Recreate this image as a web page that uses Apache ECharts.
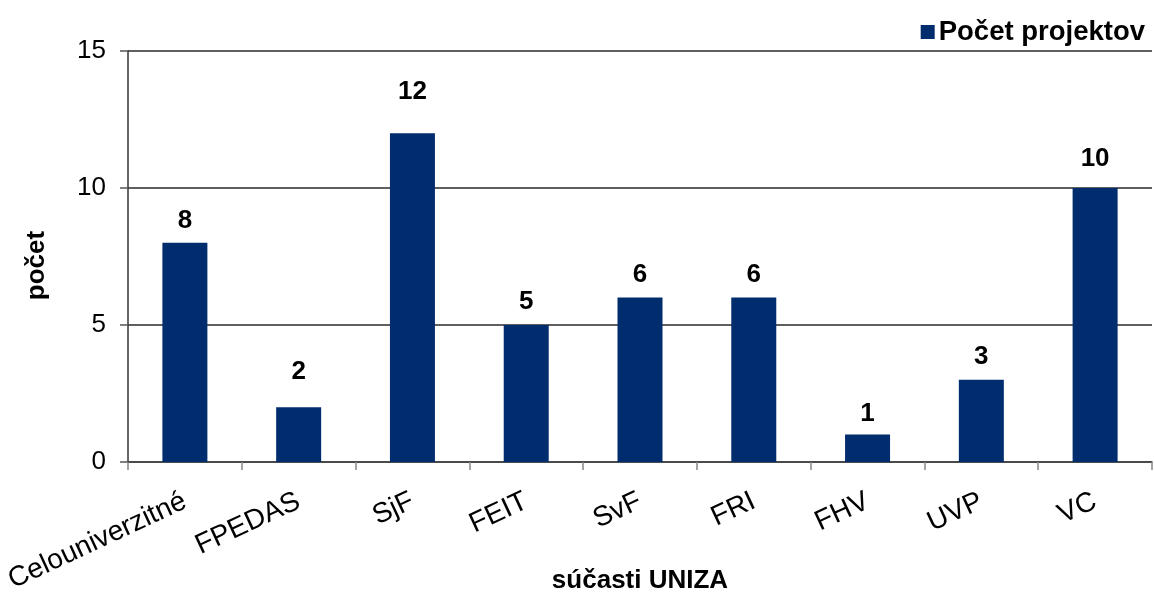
<!DOCTYPE html>
<html>
<head>
<meta charset="utf-8">
<script src="https://cdn.jsdelivr.net/npm/echarts@6/dist/echarts.min.js"></script>
<style>html,body{margin:0;padding:0;background:#fff;}#c{width:1154px;height:597px;}</style>
</head>
<body>
<div id="c"></div>
<script>
const categories = ['Celouniverzitné', 'FPEDAS', 'SjF', 'FEIT', 'SvF', 'FRI', 'FHV', 'UVP', 'VC'];
const values = [8, 2, 12, 5, 6, 6, 1, 3, 10];
const seriesName = 'Počet projektov';
const xTitle = 'súčasti UNIZA';
const yTitle = 'počet';
const yMin = 0, yMax = 15, yStep = 5;

// gap between each bar top and its value label (as in the original)
const labelGaps = [9, 22, 28, 10, 10, 10, 8, 10, 16];

const font = 'Arial, "Liberation Sans", sans-serif';
const chart = echarts.init(document.getElementById('c'), null, {renderer: 'canvas'});
chart.setOption({
  animation: false,
  backgroundColor: '#fff',
  textStyle: {fontFamily: font},
  legend: {
    right: 4, top: 13,
    itemWidth: 14, itemHeight: 14, itemGap: 10,
    icon: 'rect',
    textStyle: {fontFamily: font, fontSize: 27.5, fontWeight: 'bold', color: '#000', padding: [0,0,0,-1]},
    data: [seriesName]
  },
  grid: {left: 128, right: 2, top: 51, bottom: 135, containLabel: false, outerBoundsMode: 'none'},
  xAxis: {
    type: 'category',
    data: categories,
    name: xTitle,
    nameLocation: 'middle',
    nameGap: 106,
    nameMoveOverlap: false,
    nameTextStyle: {fontFamily: font, fontSize: 26, fontWeight: 'bold', color: '#000', verticalAlign: 'top'},
    axisLine: {lineStyle: {color: '#444', width: 1.5}},
    axisTick: {show: true, length: 8, lineStyle: {color: '#888', width: 1.5}},
    axisLabel: {rotate: 25, margin: 38, interval: 0, fontFamily: font, fontSize: 28, color: '#000'}
  },
  yAxis: {
    type: 'value',
    min: yMin, max: yMax, interval: yStep,
    name: yTitle,
    nameLocation: 'middle',
    nameRotate: 90,
    nameGap: 78,
    nameMoveOverlap: false,
    nameTextStyle: {fontFamily: font, fontSize: 26, fontWeight: 'bold', color: '#000', padding: [0, 18, 0, 0]},
    axisLine: {show: true, lineStyle: {color: '#333', width: 1.5}},
    axisTick: {show: true, length: 8, lineStyle: {color: '#555', width: 1.5}},
    axisLabel: {margin: 22, fontFamily: font, fontSize: 26, color: '#000'},
    splitLine: {show: true, lineStyle: {color: '#2a2a2a', width: 1.6}}
  },
  series: [{
    name: seriesName,
    type: 'bar',
    data: values.map((v, i) => ({value: v, label: {distance: labelGaps[i]}})),
    barWidth: 45,
    itemStyle: {color: '#012D6F'},
    label: {show: true, position: 'top', distance: 11, fontFamily: font, fontSize: 26, fontWeight: 'bold', color: '#000'}
  }]
});
</script>
</body>
</html>
